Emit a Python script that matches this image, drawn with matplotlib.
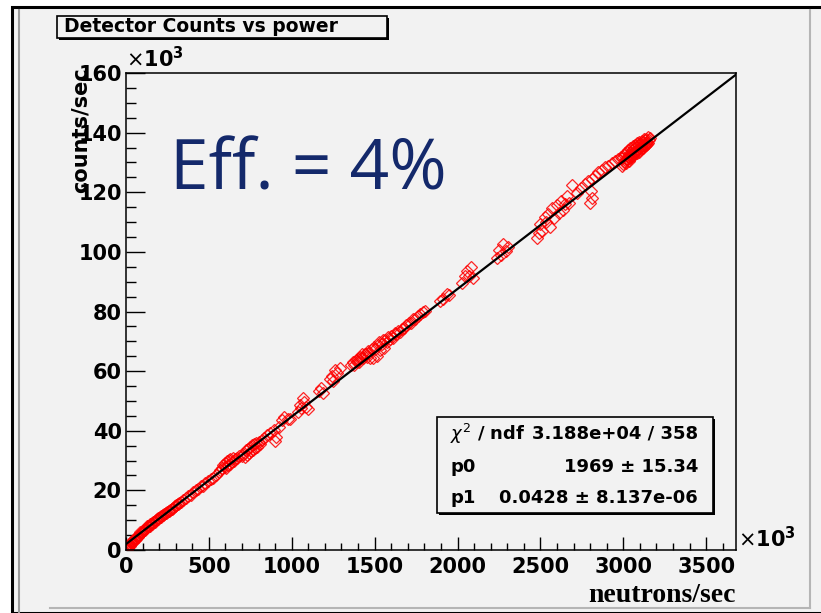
import matplotlib
matplotlib.use("Agg")
import matplotlib.pyplot as plt
from matplotlib.patches import Rectangle
from matplotlib.lines import Line2D
from matplotlib.ticker import MultipleLocator
import numpy as np

W, H = 821, 613

# fit result: counts = p0 + p1 * neutrons
p0 = 1969.0
p1 = 0.0428
chi2_text = "3.188e+04 / 358"
p0_text = "1969 \u00b1 15.34"
p1_text = "0.0428 \u00b1 8.137e-06"

# measurements, both axes in units of 10^3 per second
low_n = [2, 4, 6, 8, 10, 12, 15, 18, 20, 24, 28, 32, 36, 40, 45, 50, 55, 60, 65, 70,
         76, 82, 88, 94, 100, 108, 115, 122, 130, 138, 146, 155, 163, 172, 180, 188,
         196, 205, 214, 222, 231, 240, 248, 257, 266, 275, 284, 293, 302, 311, 320, 330,
         5, 14, 22, 30, 42, 52, 62, 72, 85, 97, 112, 126, 142, 158, 176, 192, 210, 226,
         244, 262, 280, 298, 316]
low_c = [0.2, 0.5, 0.4, 0.9, 1.2, 0.8, 1.5, 1.3, 1.9, 2.0, 2.4, 2.3, 2.8, 3.1, 3.0, 3.6,
         3.5, 4.1, 4.4, 4.6, 5.0, 5.4, 5.6, 6.0, 6.4, 6.8, 7.2, 7.4, 7.9, 8.1, 8.6, 8.8,
         9.3, 9.6, 10.0, 10.4, 10.6, 11.0, 11.4, 11.6, 12.0, 12.4, 12.8, 13.2, 13.4, 13.9,
         14.2, 14.6, 15.1, 15.3, 15.8, 16.2,
         0.9, 0.6, 1.4, 2.7, 2.6, 4.0, 3.8, 4.2, 5.9, 6.1, 6.6, 7.9, 8.0, 9.1, 9.4, 10.3,
         11.2, 11.8, 12.3, 13.0, 13.8, 14.8, 15.5]

mid_n = [345, 360, 372, 390, 405, 420, 435, 450, 462, 478, 495, 510, 525, 540,
         560, 570, 580, 588, 595, 600, 605, 610, 615, 620, 625, 630, 638, 645, 652, 660, 670, 680,
         700, 708, 715, 722, 730, 736, 742, 748, 755, 760, 766, 772, 778, 785, 792, 800, 810, 820, 830,
         850, 870, 890, 898, 905, 920, 940, 955, 975, 990,
         1040, 1050, 1058, 1065, 1075, 1085, 1095,
         1165, 1178, 1190, 1228, 1240, 1250, 1262, 1275, 1288]
mid_c = [16.9, 17.5, 18.2, 18.6, 19.5, 20.0, 20.6, 21.4, 21.6, 22.5, 23.0, 23.9, 24.3, 25.2,
         26.3, 27.0, 27.5, 28.6, 28.0, 29.2, 27.6, 29.7, 28.4, 30.3, 29.0, 30.6, 29.5, 30.9, 29.8, 30.5, 31.0, 31.4,
         31.5, 32.3, 31.2, 33.4, 32.0, 33.8, 32.6, 34.7, 33.1, 35.2, 33.6, 35.5, 34.2, 35.9, 34.6, 36.2, 35.6, 36.9, 37.6,
         38.5, 39.3, 40.2, 36.7, 38.0, 41.2, 43.6, 44.5, 43.8, 44.0,
         46.2, 48.8, 47.5, 51.0, 49.6, 48.0, 47.3,
         53.5, 54.2, 52.8, 57.2, 58.5, 56.8, 60.4, 59.3, 61.2]

high_n = [1360, 1370, 1378, 1385, 1392, 1400, 1406, 1412, 1418, 1425, 1432, 1440, 1446, 1452,
          1460, 1468, 1475, 1482, 1490, 1498, 1505, 1512, 1520, 1528, 1535, 1542, 1550, 1558,
          1565, 1572, 1580, 1590, 1600, 1610, 1620, 1630, 1642, 1655, 1668, 1680,
          1692, 1705, 1718, 1730, 1745, 1760, 1775, 1790, 1805,
          1895, 1915, 1935, 1950, 2030, 2045, 2055, 2068, 2080, 2092,
          2238, 2250, 2262, 2275, 2290, 2305]
high_c = [62.0, 63.0, 62.2, 63.8, 63.0, 64.1, 62.9, 64.9, 64.3, 65.8, 64.3, 65.7, 65.6, 64.7,
          66.8, 66.2, 64.3, 67.3, 64.5, 68.1, 67.3, 65.2, 68.6, 69.8, 67.2, 69.1, 70.3, 67.7,
          70.4, 69.8, 71.4, 70.7, 71.8, 71.1, 72.9, 72.6, 73.3, 73.2, 74.2, 74.5,
          75.6, 76.3, 76.2, 77.4, 77.5, 78.6, 79.0, 79.8, 80.3,
          83.6, 84.2, 86.0, 85.5, 89.4, 91.8, 93.5, 92.0, 95.0, 91.2,
          97.8, 100.5, 99.0, 102.8, 100.2, 101.6]

top_n = [2478, 2490, 2500, 2512, 2525, 2535, 2548, 2560, 2572, 2585, 2598, 2610, 2622, 2635,
         2648, 2660, 2675, 2690, 2800, 2812, 2805,
         2720, 2745, 2770, 2790, 2810, 2830, 2850, 2870, 2890, 2910, 2930, 2950, 2970, 2985,
         2992, 2998, 3003, 3008, 3012, 3017, 3021, 3026, 3030, 3034, 3038, 3042, 3046, 3050,
         3054, 3058, 3062, 3066, 3070, 3074, 3078, 3082, 3086, 3090, 3094, 3098, 3102, 3106,
         3110, 3114, 3118, 3122, 3126, 3130, 3135, 3140, 3145, 3150, 3155, 3160,
         2995, 3005, 3015, 3024, 3032, 3040, 3048, 3056, 3064, 3072, 3080, 3088, 3096, 3104,
         3112, 3120, 3128, 3136, 3144, 3152]
top_c = [104.8, 106.2, 109.5, 107.0, 111.6, 110.0, 112.8, 108.4, 114.6, 111.2, 115.8, 113.0,
         117.2, 114.1, 116.0, 118.8, 116.5, 122.5, 116.5, 118.2, 120.3,
         119.6, 121.5, 122.9, 123.8, 124.6, 125.5, 126.8, 127.5, 128.4, 128.9, 129.9, 130.4, 131.2, 131.8,
         131.5, 129.6, 132.4, 130.8, 133.0, 131.2, 133.6, 132.0, 134.1, 131.6, 133.2, 135.0, 132.4, 134.3,
         133.0, 135.6, 133.4, 134.8, 136.0, 133.8, 135.2, 136.6, 134.4, 135.9, 137.0, 134.8, 136.3, 135.4,
         137.2, 135.8, 136.7, 137.8, 136.0, 137.4, 136.5, 138.0, 137.0, 138.4, 137.6, 138.2,
         128.9, 130.2, 129.8, 131.0, 130.5, 131.4, 131.9, 132.0, 132.8, 133.4, 133.0, 134.2, 133.6, 134.5,
         135.0, 134.8, 135.6, 135.9, 136.2, 136.6]

neutrons = np.array(low_n + mid_n + high_n + top_n, dtype=float)
counts = np.array(low_c + mid_c + high_c + top_c, dtype=float)

x_max = 3680
y_max = 160

panel = "#f2f2f2"
bold = dict(family="DejaVu Sans", weight="bold")


def fx(px):
    return px / W


def fy(py):
    return 1 - py / H


fig = plt.figure(figsize=(W / 100, H / 100), dpi=100, facecolor="white")

# canvas border and pad bevel, kept behind the axes
fig.add_artist(Rectangle((fx(12), 0), 1 - fx(12) + 0.01, fy(7), transform=fig.transFigure,
                         facecolor=panel, edgecolor="black", lw=2.2, zorder=-10))
fig.add_artist(Line2D([fx(19), fx(19)], [0, fy(10)], transform=fig.transFigure,
                      color="#9a9a9a", lw=1.5, zorder=-9))
fig.add_artist(Line2D([fx(810), fx(810)], [fy(608), fy(10)], transform=fig.transFigure,
                      color="#b5b5b5", lw=1.5, zorder=-9))
fig.add_artist(Line2D([fx(50), fx(810)], [fy(608), fy(608)], transform=fig.transFigure,
                      color="#b5b5b5", lw=1.5, zorder=-9))

ax = fig.add_axes([fx(126), fy(550), fx(736) - fx(126), fy(73) - fy(550)])
ax.set_facecolor(panel)

ax.plot(neutrons, counts, linestyle="none", marker="D", markersize=6, fillstyle="none",
        markeredgecolor="red", markeredgewidth=0.9, alpha=0.85)

fit_x = np.array([0, x_max], dtype=float)
ax.plot(fit_x, p0 / 1000 + p1 * fit_x, color="black", lw=1.6)

ax.set_xlim(0, x_max)
ax.set_ylim(0, y_max)
ax.xaxis.set_major_locator(MultipleLocator(500))
ax.xaxis.set_minor_locator(MultipleLocator(100))
ax.yaxis.set_major_locator(MultipleLocator(20))
ax.yaxis.set_minor_locator(MultipleLocator(5))
ax.tick_params(axis="x", which="both", direction="in", top=False, pad=5)
ax.tick_params(axis="x", which="major", length=9.4, width=1)
ax.tick_params(axis="x", which="minor", length=5, width=1)
ax.tick_params(axis="y", which="both", direction="in", right=False, pad=3)
ax.tick_params(axis="y", which="major", length=13.7, width=1)
ax.tick_params(axis="y", which="minor", length=7.5, width=1)
for lab in ax.get_xticklabels() + ax.get_yticklabels():
    lab.set_fontfamily("DejaVu Sans")
    lab.set_fontweight("bold")
    lab.set_fontsize(15)
for sp in ax.spines.values():
    sp.set_linewidth(1.1)

ax.set_xlabel("neutrons/sec", family="Liberation Serif", weight="bold", fontsize=20,
              ha="right")
ax.xaxis.set_label_coords(1.0, -0.07)
ax.set_ylabel("counts/sec", fontsize=15, ha="right", va="center", **bold)
ax.yaxis.set_label_coords(-0.075, 1.012)

# exponent markers
fig.text(fx(126), fy(71), r"$\times$10$^{\mathbf{3}}$", fontsize=15, ha="left", va="bottom", **bold)
fig.text(fx(738), fy(551), r"$\times$10$^{\mathbf{3}}$", fontsize=15, ha="left", va="bottom", **bold)

# title box
fig.add_artist(Rectangle((fx(59), fy(40)), fx(330), fy(16) - fy(38), transform=fig.transFigure,
                         facecolor="black", edgecolor="none"))
fig.add_artist(Rectangle((fx(57), fy(38)), fx(330), fy(16) - fy(38), transform=fig.transFigure,
                         facecolor=panel, edgecolor="black", lw=1.2))
fig.text(fx(64), fy(27), "Detector Counts vs power", fontsize=13.5, ha="left", va="center", **bold)

# efficiency note
fig.text(fx(170), fy(190), "Eff. = 4%", family="Open Sans", fontsize=50, color="#14296b",
         ha="left", va="baseline")

# fit statistics box
fig.add_artist(Rectangle((fx(439), fy(515)), fx(276), fy(417) - fy(513), transform=fig.transFigure,
                         facecolor="black", edgecolor="none"))
fig.add_artist(Rectangle((fx(437), fy(513)), fx(276), fy(417) - fy(513), transform=fig.transFigure,
                         facecolor=panel, edgecolor="black", lw=1.2))
rows = [(r"$\chi^{2}$ / ndf", chi2_text), ("p0", p0_text), ("p1", p1_text)]
for (name, value), py in zip(rows, [434, 467, 498]):
    fig.text(fx(450), fy(py), name, fontsize=13, ha="left", va="center", **bold)
    fig.text(fx(698), fy(py), value, fontsize=13, ha="right", va="center", **bold)

fig.savefig("out.png", dpi=100, facecolor="white")
